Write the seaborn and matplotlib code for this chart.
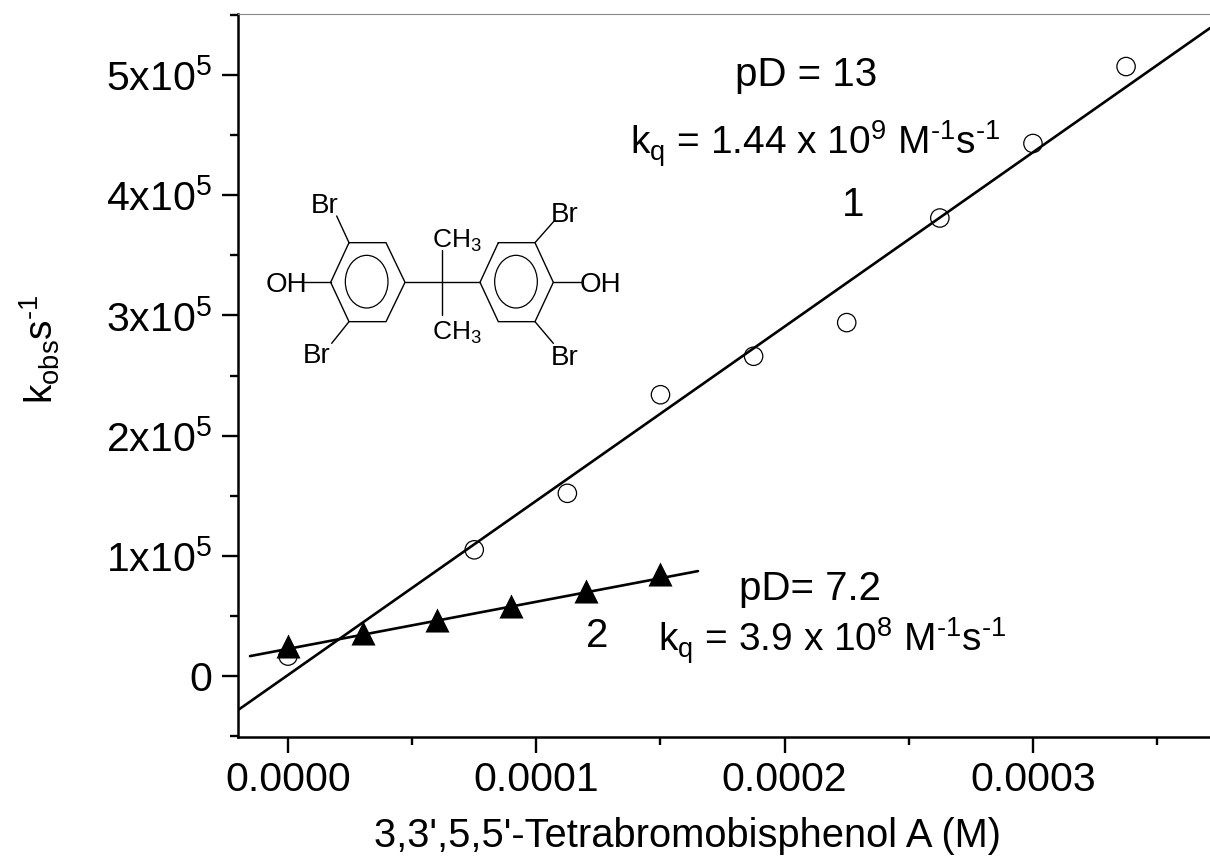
import matplotlib
matplotlib.use("Agg")
import matplotlib.pyplot as plt
from matplotlib.lines import Line2D
from matplotlib.patches import Ellipse
from matplotlib.ticker import MultipleLocator, FixedLocator, FixedFormatter
import numpy as np
import pandas as pd
import seaborn as sns

# ---- data ----
x1 = [0.0, 0.75e-4, 1.125e-4, 1.5e-4, 1.875e-4, 2.25e-4, 2.625e-4, 3.0e-4, 3.375e-4]
y1 = [0.166e5, 1.05e5, 1.52e5, 2.34e5, 2.66e5, 2.94e5, 3.81e5, 4.43e5, 5.07e5]
x2 = [0.0, 0.3e-4, 0.6e-4, 0.9e-4, 1.2e-4, 1.5e-4]
y2 = [0.25e5, 0.36e5, 0.47e5, 0.58e5, 0.71e5, 0.85e5]
fit1_x = [-0.2014e-4, 3.713e-4]
fit1_y = [-0.283e5, 5.39e5]
fit2_x = [-0.153e-4, 1.651e-4]
fit2_y = [0.166e5, 0.873e5]
xticks = [0.0, 1e-4, 2e-4, 3e-4]
xticklabels = ["0.0000", "0.0001", "0.0002", "0.0003"]
yticks = [0, 1e5, 2e5, 3e5, 4e5, 5e5]
yticklabels = ["0", r"1x10$^{5}$", r"2x10$^{5}$", r"3x10$^{5}$", r"4x10$^{5}$", r"5x10$^{5}$"]

sns.set_theme(style="ticks")
plt.rcParams["font.family"] = ["Liberation Sans", "DejaVu Sans"]
plt.rcParams["mathtext.fontset"] = "custom"
plt.rcParams["mathtext.rm"] = "Liberation Sans"
plt.rcParams["mathtext.it"] = "Liberation Sans"
plt.rcParams["mathtext.bf"] = "Liberation Sans"
plt.rcParams["mathtext.default"] = "regular"

W, H = 1210, 856
fig = plt.figure(figsize=(W / 100, H / 100), dpi=100, facecolor="white")
ax = fig.add_axes([238 / W, 1 - 737 / H, (1210 - 238) / W, (737 - 14) / H])
ax.set_xlim(-0.2014e-4, 3.713e-4)
ax.set_ylim(-0.507e5, 5.507e5)

sns.lineplot(x=fit1_x, y=fit1_y, ax=ax, color="black", lw=1.9, zorder=2, errorbar=None)
sns.lineplot(x=fit2_x, y=fit2_y, ax=ax, color="black", lw=1.9, zorder=2, errorbar=None)
sns.scatterplot(x=x1, y=y1, ax=ax, marker="o", s=175, facecolors="none",
                edgecolor="black", linewidth=0.9, zorder=3)
sns.scatterplot(x=x2, y=y2, ax=ax, marker="^", s=300, color="black",
                edgecolor="black", linewidth=0, zorder=4)

ax.xaxis.set_major_locator(FixedLocator(xticks))
ax.xaxis.set_major_formatter(FixedFormatter(xticklabels))
ax.xaxis.set_minor_locator(MultipleLocator(0.5e-4))
ax.yaxis.set_major_locator(FixedLocator(yticks))
ax.yaxis.set_major_formatter(FixedFormatter(yticklabels))
ax.yaxis.set_minor_locator(MultipleLocator(0.5e5))
ax.tick_params(axis="both", which="major", length=11.5, width=1.7, labelsize=29.5, color="black", labelcolor="black")
ax.tick_params(axis="both", which="minor", length=5.8, width=1.7, color="black")
ax.tick_params(axis="x", which="major", pad=6)
ax.tick_params(axis="y", which="major", pad=7)

for s in ("left", "bottom"):
    ax.spines[s].set_linewidth(1.8)
    ax.spines[s].set_color("black")
ax.spines["right"].set_visible(False)
ax.spines["top"].set_linewidth(0.8)
ax.spines["top"].set_color("#888888")

ax.set_xlabel("3,3',5,5'-Tetrabromobisphenol A (M)", fontsize=28.7, color="black")
ax.xaxis.set_label_coords((687 - 238) / 972, 1 - (847 - 14) / 723, transform=ax.transAxes)
ax.xaxis.label.set_va("baseline")
ax.set_ylabel(r"k$_{obs}$s$^{\text{-1}}$", fontsize=28, color="black")
ax.yaxis.set_label_coords((54 - 238) / 972, 1 - (349 - 14) / 723, transform=ax.transAxes)
ax.yaxis.label.set_va("baseline")


def T(x, y, s, size=28, ha="left", va="baseline"):
    fig.text(x / W, 1 - y / H, s, fontsize=size, ha=ha, va=va, color="black")


T(806, 86, "pD = 13", ha="center", size=29)
T(630, 155, r"k$_{q}$ = 1.44 x 10$^{9}$ M$^{\text{-1}}$s$^{\text{-1}}$")
T(853, 216, "1", ha="center", size=29)
T(810, 600, "pD= 7.2", ha="center", size=29)
T(658, 652, r"k$_{q}$ = 3.9 x 10$^{8}$ M$^{\text{-1}}$s$^{\text{-1}}$")
T(597, 647, "2", ha="center", size=29)


# ---- structure drawing, zoom-crop pixel coordinates ----
def Z(zx, zy):
    return (250 + zx / 3) / W, 1 - (180 + zy / 3) / H


bonds = [
    [(297, 188), (408, 188), (465, 307), (408, 425), (297, 425), (242, 307), (297, 188)],
    [(745, 188), (855, 188), (910, 307), (855, 425), (745, 425), (690, 307), (745, 188)],
    [(465, 307), (690, 307)], [(577, 210), (577, 405)],
    [(297, 188), (260, 108)], [(297, 425), (245, 490)],
    [(855, 188), (915, 120)], [(855, 425), (910, 490)],
    [(242, 307), (160, 307)], [(910, 307), (1000, 307)],
]
for b in bonds:
    pts = [Z(*p) for p in b]
    fig.add_artist(Line2D([p[0] for p in pts], [p[1] for p in pts], transform=fig.transFigure,
                          color="black", lw=1.0))
for cx in (350, 798):
    fig.add_artist(Ellipse(Z(cx, 305), 128 / 3 / W, 158 / 3 / H, transform=fig.transFigure,
                           fill=False, edgecolor="black", lw=0.9))

for zx, zy, s in [(225, 70, "Br"), (200, 520, "Br"), (945, 95, "Br"), (945, 525, "Br"),
                  (108, 307, "OH"), (1050, 307, "OH")]:
    x_, y_ = Z(zx, zy)
    fig.text(x_, y_, s, fontsize=20, ha="center", va="center_baseline", color="black")
for zx, zy in [(620, 172), (620, 448)]:
    x_, y_ = Z(zx, zy)
    fig.text(x_, y_, r"CH$_{3}$", fontsize=19, ha="center", va="center_baseline", color="black")

fig.savefig("out.png", dpi=100, facecolor="white")
